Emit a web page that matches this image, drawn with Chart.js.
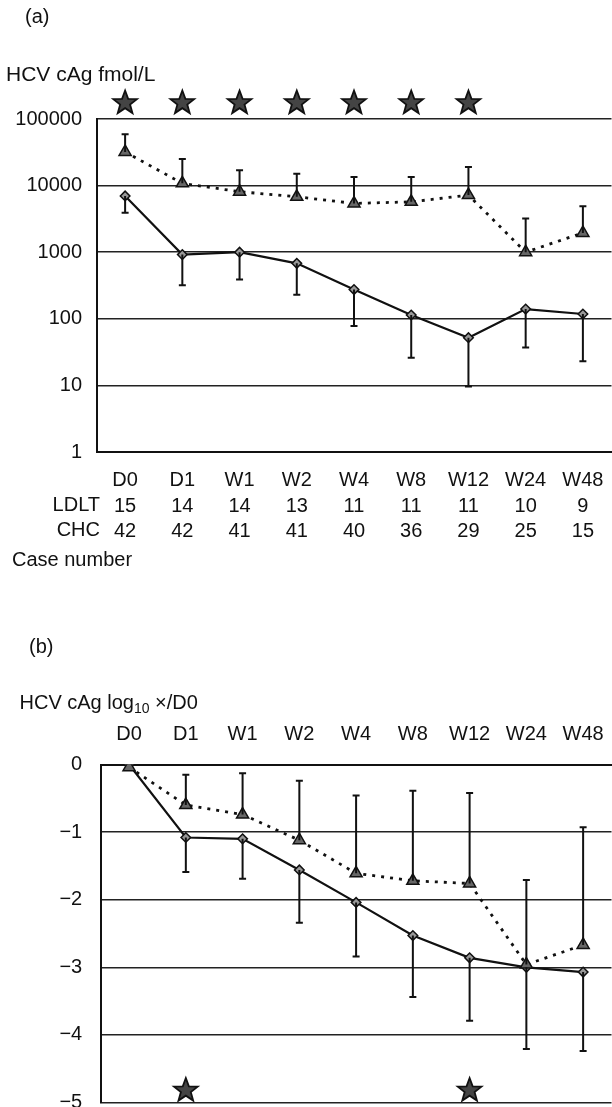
<!DOCTYPE html>
<html>
<head>
<meta charset="UTF-8">
<title>HCV cAg</title>
<script src="https://cdn.jsdelivr.net/npm/chart.js@4.4.1/dist/chart.umd.min.js"></script>
<style>
    html, body { margin: 0; padding: 0; background: #fff; overflow: hidden; }
    .wrap { position: relative; width: 612px; height: 1107px; overflow: hidden; }
    canvas { position: absolute; left: 0; }
    #chartA { top: 0; }
    #chartB { top: 600px; }
</style>
</head>
<body>
<div class="wrap">
    <canvas id="chartA" width="620" height="600"></canvas>
    <canvas id="chartB" width="620" height="533"></canvas>
</div>
<script>
// time points and case numbers
const categories = ['D0', 'D1', 'W1', 'W2', 'W4', 'W8', 'W12', 'W24', 'W48'];
const ldltCases = [15, 14, 14, 13, 11, 11, 11, 10, 9];
const chcCases = [42, 42, 41, 41, 40, 36, 29, 25, 15];

// (a) HCV cAg fmol/L
const dashedA = [32000, 10800, 8100, 6800, 5400, 5700, 7200, 1000, 1950];
const dashedAUpper = [59000, 25000, 17000, 15000, 13500, 13500, 19000, 3200, 4900];
const solidA = [7000, 920, 1000, 680, 275, 114, 52, 140, 118];
const solidALower = [3900, 320, 390, 230, 78, 26, 9.6, 37, 23];
const yTicksA = [1, 10, 100, 1000, 10000, 100000];
const starsA = ['D0', 'D1', 'W1', 'W2', 'W4', 'W8', 'W12'];

// (b) log10 x/D0
const dashedB = [-0.04, -0.6, -0.74, -1.12, -1.61, -1.72, -1.76, -2.96, -2.67];
const dashedBUpper = [null, -0.15, -0.13, -0.24, -0.46, -0.39, -0.42, -1.71, -0.93];
const solidB = [0, -1.08, -1.10, -1.56, -2.04, -2.53, -2.86, -3.0, -3.07];
const solidBLower = [null, -1.59, -1.69, -2.34, -2.84, -3.44, -3.79, -4.21, -4.24];
const yTicksB = [0, -1, -2, -3, -4, -5];
const starsB = ['D1', 'W12'];

const FONT = "'Liberation Sans', Arial, Helvetica, sans-serif";
const INK = '#111';
const FS = 20;
Chart.defaults.font.family = FONT;
Chart.defaults.font.size = FS;
Chart.defaults.color = INK;

function drawStar(ctx, cx, cy, ro, ri) {
    ctx.beginPath();
    for (let i = 0; i < 10; i++) {
        const r = i % 2 === 0 ? ro : ri;
        const a = -Math.PI / 2 + i * Math.PI / 5;
        const px = cx + r * Math.cos(a), py = cy + r * Math.sin(a);
        if (i === 0) ctx.moveTo(px, py); else ctx.lineTo(px, py);
    }
    ctx.closePath();
    ctx.fillStyle = '#444';
    ctx.fill();
    ctx.lineWidth = 1.8;
    ctx.strokeStyle = INK;
    ctx.stroke();
}

// error bars, stars and free text
const extras = {
    id: 'extras',
    afterDatasetsDraw(chart, args, opts) {
        const ctx = chart.ctx;
        const xs = chart.scales.x, ys = chart.scales.y;
        ctx.save();
        ctx.strokeStyle = INK;
        ctx.lineWidth = 2;
        (opts.bars || []).forEach(b => {
            const meta = chart.getDatasetMeta(b.dataset);
            b.ends.forEach((v, j) => {
                if (v == null) return;
                const pt = meta.data[j];
                const y1 = ys.getPixelForValue(v);
                ctx.beginPath();
                ctx.moveTo(pt.x, pt.y);
                ctx.lineTo(pt.x, y1);
                ctx.moveTo(pt.x - 3.5, y1);
                ctx.lineTo(pt.x + 3.5, y1);
                ctx.stroke();
            });
        });
        const area = chart.chartArea;
        (opts.stars || []).forEach(c => {
            const x = xs.getPixelForValue(categories.indexOf(c));
            const y = opts.starAbove ? area.top - 16 : area.bottom - 12;
            drawStar(ctx, x, y, 12.5, 5.2);
        });
        ctx.restore();
    },
    afterDraw(chart, args, opts) {
        const ctx = chart.ctx;
        ctx.save();
        ctx.fillStyle = INK;
        ctx.textBaseline = 'middle';
        (opts.texts || []).forEach(t => {
            ctx.font = (t.size || FS) + 'px ' + FONT;
            ctx.textAlign = t.align || 'left';
            ctx.fillText(t.text, t.x, t.y);
            if (t.sub) {
                let x = t.x + ctx.measureText(t.text).width;
                ctx.font = '14px ' + FONT;
                ctx.fillText(t.sub, x, t.y + 6);
                x += ctx.measureText(t.sub).width;
                ctx.font = (t.size || FS) + 'px ' + FONT;
                ctx.fillText(t.after, x, t.y);
            }
        });
        ctx.restore();
    }
};

function seriesStyles() {
    return [
        {
            borderColor: INK, borderWidth: 2.8, borderDash: [3, 6],
            pointStyle: 'triangle', pointRadius: 7,
            pointBackgroundColor: '#666', pointBorderColor: INK, pointBorderWidth: 1.5
        },
        {
            borderColor: INK, borderWidth: 2.2,
            pointStyle: 'rectRot', pointRadius: 4.8,
            pointBackgroundColor: '#999', pointBorderColor: INK, pointBorderWidth: 1.5
        }
    ];
}

const gridY = { color: '#222', lineWidth: 1.5, drawTicks: false };

// (a)
const stA = seriesStyles();
new Chart(document.getElementById('chartA'), {
    type: 'line',
    data: {
        labels: categories.map((c, i) => [c, String(ldltCases[i]), String(chcCases[i])]),
        datasets: [
            Object.assign({ label: 'LDLT', data: dashedA }, stA[0]),
            Object.assign({ label: 'CHC', data: solidA }, stA[1])
        ]
    },
    plugins: [extras],
    options: {
        responsive: false,
        animation: false,
        devicePixelRatio: 1,
        layout: { padding: { top: 119, right: 5, left: 0, bottom: 0 } },
        plugins: {
            legend: { display: false },
            tooltip: { enabled: false },
            extras: {
                bars: [{ dataset: 0, ends: dashedAUpper }, { dataset: 1, ends: solidALower }],
                stars: starsA,
                starAbove: true,
                texts: [
                    { text: '(a)', x: 25, y: 17 },
                    { text: 'HCV cAg fmol/L', x: 6, y: 75, size: 21 },
                    { text: 'LDLT', x: 100, y: 505, align: 'right' },
                    { text: 'CHC', x: 100, y: 530, align: 'right' },
                    { text: 'Case number', x: 12, y: 560 }
                ]
            }
        },
        scales: {
            x: {
                offset: true,
                grid: { display: false },
                border: { display: true, color: INK, width: 2 },
                ticks: { padding: 8, maxRotation: 0, autoSkip: false, font: { lineHeight: 1.27 } },
                afterFit: s => { s.height = 148; }
            },
            y: {
                type: 'logarithmic',
                min: 1,
                max: 100000,
                afterBuildTicks: s => { s.ticks = yTicksA.map(v => ({ value: v })); },
                grid: gridY,
                border: { display: true, color: INK, width: 2 },
                ticks: { padding: 14.5, callback: v => String(v) },
                afterFit: s => { s.width = 96.5; }
            }
        }
    }
});

// (b)
const stB = seriesStyles();
new Chart(document.getElementById('chartB'), {
    type: 'line',
    data: {
        labels: categories,
        datasets: [
            Object.assign({ label: 'LDLT', data: dashedB }, stB[0]),
            Object.assign({ label: 'CHC', data: solidB }, stB[1])
        ]
    },
    plugins: [extras],
    options: {
        responsive: false,
        animation: false,
        devicePixelRatio: 1,
        layout: { padding: { top: 0, right: 1, left: 0, bottom: 5 } },
        plugins: {
            legend: { display: false },
            tooltip: { enabled: false },
            extras: {
                bars: [{ dataset: 0, ends: dashedBUpper }, { dataset: 1, ends: solidBLower }],
                stars: starsB,
                starAbove: false,
                texts: [
                    { text: '(b)', x: 29, y: 47 },
                    { text: 'HCV cAg log', sub: '10', after: ' \u00d7/D0', x: 19.5, y: 103 }
                ]
            }
        },
        scales: {
            x: {
                position: 'top',
                offset: true,
                grid: { display: false },
                border: { display: true, color: INK, width: 2 },
                ticks: { padding: 10, maxRotation: 0, autoSkip: false },
                afterFit: s => { s.height = 164.5; }
            },
            y: {
                min: -5,
                max: 0,
                afterBuildTicks: s => { s.ticks = yTicksB.map(v => ({ value: v })); },
                grid: gridY,
                border: { display: true, color: INK, width: 2 },
                ticks: { padding: 18.5, callback: v => (v < 0 ? '\u2212' + Math.abs(v) : String(v)) },
                afterFit: s => { s.width = 100.7; }
            }
        }
    }
});
</script>
</body>
</html>
